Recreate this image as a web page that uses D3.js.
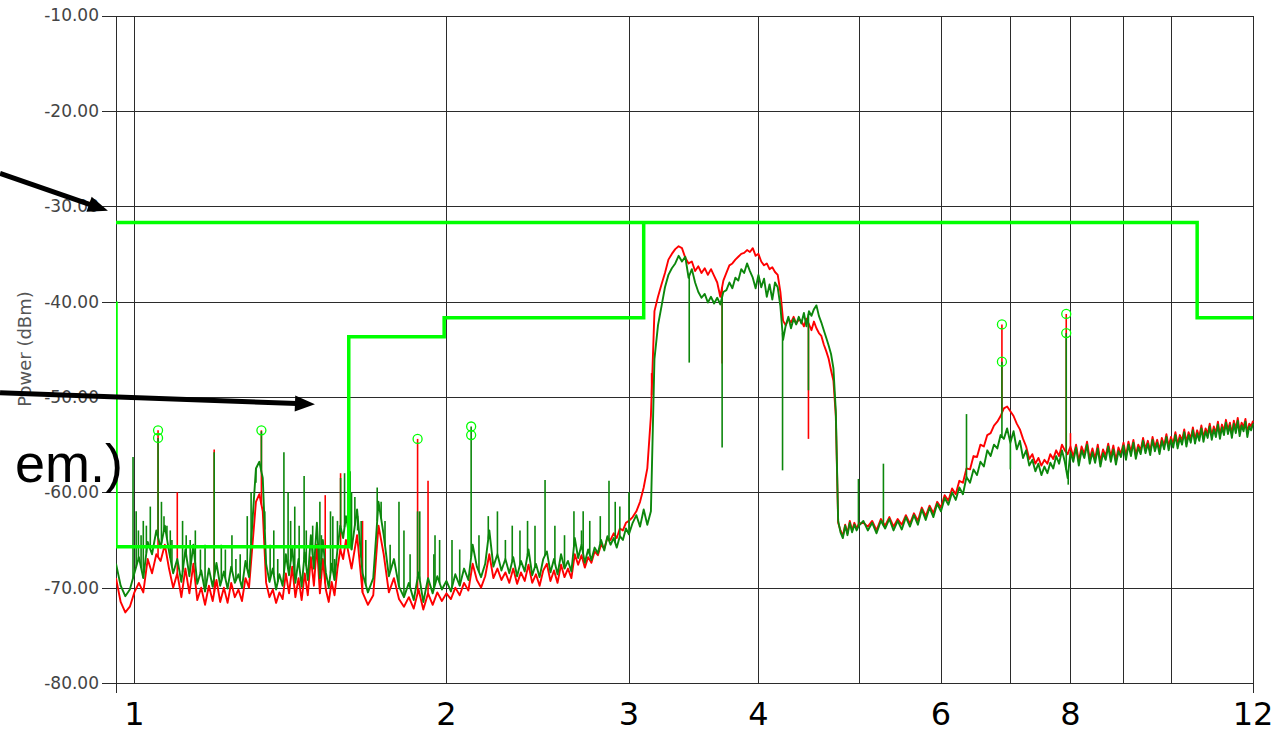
<!DOCTYPE html>
<html>
<head>
<meta charset="utf-8">
<script src="https://cdn.jsdelivr.net/npm/d3@7"></script>
<style>
  html, body { margin: 0; padding: 0; background: #ffffff; }
  svg { display: block; }
</style>
</head>
<body>
<svg id="chart" width="1280" height="733"></svg>
<script>
// ---------------------------------------------------------------
// Spectrum sweeps (GHz, dBm). Each sweep segment: [start GHz, step GHz]
// ---------------------------------------------------------------
const greenLowSweep = [0.96, 0.01];
const greenLow = [
  -67.5, -69.8, -70.9, -70.2, -68.5, -66.8, -69.0, -65.2, -66.5, -64.0,
  -65.8, -63.5, -66.2, -68.5, -67.0, -69.4, -66.0, -68.8, -65.5, -69.6,
  -68.2, -70.4, -68.0, -69.9, -67.4, -69.8, -68.3, -70.1, -67.8, -69.5,
  -68.6, -70.0, -67.2, -68.9, -63.0, -57.5, -56.8, -58.5, -67.5, -69.4,
  -68.0, -70.2, -68.6, -69.8, -66.5, -68.7, -65.8, -69.5, -67.0, -69.9,
  -66.3, -69.2, -64.5, -68.0, -63.2, -69.0, -65.0, -68.4, -70.0, -67.5,
  -69.2, -66.0, -63.5, -64.8, -62.5
];
const greenMidSweep = [1.62, 0.02];
const greenMid = [
  -66.0, -61.8, -68.5, -70.5, -69.0, -61.0, -64.5, -68.8, -67.0, -69.9,
  -71.0, -69.5, -71.3, -68.4, -71.5, -69.0, -70.6, -68.8, -70.2, -69.3,
  -70.4, -68.6, -69.8, -68.0, -69.2, -65.5, -67.8, -68.9, -67.5, -64.0,
  -67.8, -66.5, -68.2, -67.0, -68.5, -66.8, -68.8, -67.2, -68.3, -66.0,
  -68.7, -67.5, -68.9, -67.0, -66.2, -68.4, -67.0, -68.6, -66.5, -68.0,
  -67.2, -68.3, -64.8, -66.9, -65.5, -67.4, -66.0, -67.1, -65.8, -66.4,
  -65.0, -66.1, -64.6, -65.5, -64.8, -65.8, -64.6, -65.0, -63.8, -64.4
];
const greenBandSweep = [3.025, 0.025];
const greenBand = [
  -63.2, -62.4, -63.6, -61.8, -63.4, -62.0, -46.0, -42.5, -40.5, -38.5,
  -37.2, -36.5, -36.0, -35.2, -35.8, -35.3, -37.5, -36.6, -38.0, -39.0,
  -39.6, -39.2, -40.1, -39.5, -40.2, -39.6, -40.3, -39.0, -38.8, -38.0,
  -38.6, -37.5, -37.8, -36.6, -37.0, -36.0, -36.8, -37.5, -38.6, -37.2,
  -38.5, -37.6, -39.5, -38.2, -39.8, -38.0, -38.5, -40.5, -44.0, -42.5,
  -41.6, -42.8, -41.8, -42.4, -41.6, -42.3, -41.2, -42.6, -41.0, -41.5,
  -40.8, -40.4, -41.5, -42.2, -43.0, -43.8, -44.6, -45.5, -47.0, -51.5,
  -63.0, -64.2, -64.8, -63.5, -64.5, -63.2, -64.2, -63.4, -64.0, -63.5
];
const greenUpperSweep = [5.05, 0.05];
const greenUpper = [
  -63.0, -64.0, -63.2, -64.3, -63.0, -63.8, -62.8, -64.0, -63.0, -63.9,
  -62.6, -63.6, -62.4, -63.4, -61.8, -62.9, -61.6, -62.6, -61.2, -62.0,
  -60.6, -61.3, -60.0, -60.8, -59.5, -60.2, -58.4, -59.0, -57.6, -58.2,
  -56.8, -57.3, -55.6, -56.2, -55.0, -55.4, -54.0, -54.4, -53.3, -54.8,
  -53.6, -55.5, -54.6, -56.4, -55.6, -57.2, -56.6, -57.8, -57.0, -58.2,
  -57.3, -58.0, -56.9, -57.5, -56.2, -57.0, -55.6, -56.8, -58.5, -55.8
];
const greenTopSweep = [8.05, 0.05];
const greenTop = [
  -56.8, -55.3, -57.2, -55.6, -56.4, -55.0, -57.0, -55.8, -56.9, -55.4,
  -57.3, -55.9, -56.6, -55.2, -56.8, -55.5, -57.1, -55.7, -56.3, -55.1,
  -56.6, -55.0, -56.2, -54.8, -56.5, -55.3, -56.0, -54.6, -55.9, -54.9,
  -56.1, -54.5, -55.7, -54.8, -56.0, -54.6, -55.5, -54.2, -55.6, -54.5,
  -55.3, -54.0, -55.4, -54.3, -55.0, -53.7, -55.2, -54.0, -54.8, -53.5,
  -54.9, -53.8, -54.6, -53.3, -54.7, -53.6, -54.3, -53.1, -54.5, -53.4,
  -54.2, -52.9, -54.4, -53.2, -54.0, -52.7, -53.9, -53.0, -54.3, -52.8,
  -53.8, -52.5, -54.1, -53.0, -53.6, -52.6, -54.2, -53.1, -53.5, -52.8
];

const redLowSweep = [0.96, 0.01];
const redLow = [
  -69.0, -71.5, -72.6, -72.0, -70.5, -69.5, -70.5, -67.0, -68.5, -66.5,
  -67.2, -65.5, -68.0, -70.0, -68.5, -71.0, -68.0, -70.6, -67.5, -71.3,
  -70.0, -71.8, -69.8, -71.4, -69.2, -71.5, -70.0, -71.6, -69.5, -71.0,
  -70.2, -71.4, -69.0, -70.0, -65.5, -61.0, -60.2, -62.0, -69.5, -71.0,
  -70.2, -71.6, -70.5, -71.2, -68.5, -70.6, -67.8, -71.0, -69.0, -71.3,
  -68.5, -70.8, -66.8, -69.8, -65.5, -70.6, -67.0, -70.2, -71.5, -69.4,
  -70.8, -68.0, -66.0, -67.0, -65.0
];
const redMidSweep = [1.62, 0.02];
const redMid = [
  -68.0, -64.5, -70.5, -71.8, -70.8, -63.5, -66.5, -70.5, -69.0, -71.2,
  -72.0, -71.0, -72.2, -70.2, -72.3, -70.6, -71.8, -70.5, -71.4, -70.6,
  -71.2, -70.0, -70.8, -69.5, -70.3, -67.5, -69.2, -70.0, -68.8, -66.5,
  -69.0, -68.0, -69.2, -68.4, -69.5, -68.0, -69.6, -68.4, -69.3, -67.6,
  -69.5, -68.6, -69.8, -68.2, -67.5, -69.3, -68.2, -69.5, -67.6, -68.9,
  -68.0, -69.0, -66.5, -67.6, -66.6, -67.9, -66.8, -67.4, -66.2, -66.6,
  -65.5, -65.9, -64.8, -65.0, -64.3, -64.8, -63.8, -64.0, -63.2, -63.0
];
const redBandSweep = [3.025, 0.025];
const redBand = [
  -62.6, -62.0, -61.0, -59.5, -57.5, -52.0, -41.0, -39.5, -38.2, -37.0,
  -35.6, -35.0, -34.5, -34.2, -34.4, -35.4, -36.0, -35.8, -36.8, -36.3,
  -37.0, -36.5, -37.2, -36.6, -37.3, -38.0, -39.5, -37.8, -37.0, -36.2,
  -36.0, -35.6, -35.3, -35.0, -34.9, -34.6, -34.8, -34.4, -35.2, -35.0,
  -35.8, -36.2, -36.0, -36.6, -36.4, -36.9, -37.2, -39.0, -42.0, -42.5,
  -41.8, -42.2, -41.6, -42.3, -41.9, -42.0, -42.6, -41.8, -42.4, -43.0,
  -42.1, -42.8, -43.3, -43.6, -44.5, -45.2, -46.0, -47.2, -48.3, -52.0,
  -63.2, -64.0, -64.6, -63.4, -64.3, -63.0, -64.0, -63.2, -63.8, -63.3
];
const redUpperSweep = [5.05, 0.05];
const redUpper = [
  -63.2, -63.6, -63.0, -64.0, -62.8, -63.5, -62.6, -63.6, -62.8, -63.4,
  -62.4, -63.3, -62.2, -63.0, -61.6, -62.5, -61.4, -62.2, -61.0, -61.6,
  -60.3, -60.9, -59.6, -60.2, -58.8, -59.0, -57.5, -57.6, -56.2, -56.3,
  -55.0, -55.2, -54.0, -53.8, -53.0, -52.6, -52.0, -51.2, -51.0, -51.5,
  -52.0, -52.8, -53.4, -54.4, -55.2, -56.5, -56.0, -57.0, -56.4, -57.2,
  -56.6, -57.0, -56.0, -56.5, -55.6, -56.2, -55.0, -55.6, -56.0, -55.2
];
const redTopSweep = [8.05, 0.05];
const redTop = [
  -56.3, -55.0, -56.8, -55.2, -56.0, -54.7, -56.5, -55.4, -56.5, -55.0,
  -56.8, -55.5, -56.2, -54.9, -56.3, -55.1, -56.7, -55.3, -56.0, -54.8,
  -56.2, -54.7, -55.8, -54.5, -56.1, -55.0, -55.6, -54.3, -55.5, -54.6,
  -55.7, -54.2, -55.3, -54.5, -55.6, -54.3, -55.1, -53.9, -55.2, -54.2,
  -54.9, -53.7, -55.0, -54.0, -54.6, -53.4, -54.8, -53.7, -54.4, -53.2,
  -54.5, -53.5, -54.2, -53.0, -54.3, -53.3, -53.9, -52.8, -54.1, -53.1,
  -53.8, -52.6, -54.0, -52.9, -53.6, -52.4, -53.5, -52.7, -53.9, -52.5,
  -53.4, -52.2, -53.7, -52.7, -53.2, -52.3, -53.8, -52.8, -53.1, -52.5
];

// Narrow spurs and notches: [GHz, dBm reached]
const greenSpurs = [
  [0.997, -56.3], [1.004, -62.0], [1.009, -64.0], [1.015, -64.5], [1.02, -63.0],
  [1.027, -63.5], [1.036, -61.5], [1.054, -54.3], [1.062, -61.0], [1.068, -62.5],
  [1.075, -63.5], [1.083, -64.0], [1.087, -65.0], [1.113, -63.0], [1.122, -64.5],
  [1.132, -65.0], [1.145, -64.0], [1.158, -66.0], [1.17, -65.5], [1.194, -55.8],
  [1.213, -65.5], [1.224, -66.0], [1.242, -64.5], [1.253, -67.0], [1.265, -66.5],
  [1.285, -62.5], [1.296, -60.0], [1.31, -59.0], [1.326, -53.6], [1.336, -62.0],
  [1.352, -65.5], [1.363, -64.0], [1.375, -67.0], [1.394, -55.8], [1.407, -60.0],
  [1.415, -63.0], [1.428, -61.5], [1.442, -63.5], [1.458, -58.3], [1.465, -64.0],
  [1.486, -63.5], [1.51, -61.0], [1.515, -64.5], [1.546, -62.0], [1.554, -62.5],
  [1.56, -67.0], [1.57, -63.0], [1.581, -58.5], [1.595, -58.0], [1.615, -57.8],
  [1.62, -60.0], [1.632, -60.5], [1.642, -64.0], [1.655, -63.0], [1.672, -65.0],
  [1.715, -59.5], [1.73, -61.0], [1.745, -63.0], [1.765, -65.5], [1.80, -61.0],
  [1.82, -64.0], [1.845, -66.5], [1.876, -62.0], [1.885, -62.0], [1.945, -66.5],
  [1.95, -64.5], [1.97, -65.0], [2.025, -65.0], [2.06, -66.0], [2.113, -53.1],
  [2.15, -64.5], [2.195, -62.5], [2.24, -62.0], [2.28, -65.0], [2.315, -63.5],
  [2.355, -64.0], [2.395, -63.0], [2.435, -63.5], [2.49, -58.7], [2.545, -63.5],
  [2.60, -64.5], [2.655, -62.0], [2.70, -64.0], [2.71, -62.0], [2.75, -63.0],
  [2.815, -62.5], [2.87, -58.8], [2.91, -61.0], [2.94, -61.5], [3.0, -60.0],
  [3.43, -46.4], [3.69, -55.3], [4.22, -57.7], [4.47, -49.3],
  [4.995, -58.6], [5.28, -57.0], [6.35, -51.8], [6.87, -46.3], [7.0, -57.6],
  [7.925, -43.3], [7.96, -59.2]
];
const redSpurs = [
  [1.054, -53.5], [1.10, -60.0], [1.194, -55.5], [1.326, -53.5], [1.528, -60.3],
  [1.581, -58.0], [1.66, -63.0], [1.876, -54.4], [1.92, -58.8], [3.155, -47.5],
  [3.69, -46.5], [4.47, -54.4], [6.87, -42.4], [7.925, -41.3], [8.0, -53.8]
];

// Peak markers
const markerFreq = [1.054, 1.054, 1.326, 1.876, 2.113, 2.113, 6.87, 6.87, 7.925, 7.925];
const markerLevel = [-53.5, -54.3, -53.5, -54.4, -53.1, -54.0, -42.4, -46.3, -41.3, -43.3];

// Emission limit lines
const limitAFreq = [0.96, 10.6, 10.6, 12];
const limitALevel = [-31.7, -31.7, -41.7, -41.7];
const limitBFreq = [0.96, 0.96, 1.61, 1.61, 1.99, 1.99, 3.1, 3.1];
const limitBLevel = [-40.0, -65.7, -65.7, -43.7, -43.7, -41.7, -41.7, -31.7];

// Axes
const yTicks = [-80, -70, -60, -50, -40, -30, -20, -10];
const gridFreqs = [1, 2, 3, 4, 5, 6, 7, 8, 9, 10];
const freqLabels = [1, 2, 3, 4, 6, 8, 12];

// Callout arrows (GHz, dBm), tail -> tip
const calloutTail = [[0.742, -26.56], [0.742, -49.56]];
const calloutTip = [[0.943, -30.48], [1.4935, -50.76]];

// ---------------------------------------------------------------
const svg = d3.select("#chart");
const x = d3.scaleLog().domain([0.96, 12]).range([116, 1253]);
const y = d3.scaleLinear().domain([-80, -10]).range([683, 15.5]);
const [x0, x1] = x.range();
const [yb, yt] = y.range();

function sweep(seg, values) {
  return values.map((v, i) => ({ f: +(seg[0] + i * seg[1]).toFixed(4), db: v }));
}
const greenTrace = [].concat(
  sweep(greenLowSweep, greenLow), sweep(greenMidSweep, greenMid),
  sweep(greenBandSweep, greenBand), sweep(greenUpperSweep, greenUpper),
  sweep(greenTopSweep, greenTop));
const redTrace = [].concat(
  sweep(redLowSweep, redLow), sweep(redMidSweep, redMid),
  sweep(redBandSweep, redBand), sweep(redUpperSweep, redUpper),
  sweep(redTopSweep, redTop));

const bis = d3.bisector(d => d.f).left;
function levelAt(trace, f) {
  const i = bis(trace, f);
  if (i <= 0) return trace[0].db;
  if (i >= trace.length) return trace[trace.length - 1].db;
  const a = trace[i - 1], b = trace[i];
  const t = (Math.log(f) - Math.log(a.f)) / (Math.log(b.f) - Math.log(a.f));
  return a.db + t * (b.db - a.db);
}

svg.append("defs").append("clipPath").attr("id", "plotClip")
  .append("rect").attr("x", x0).attr("y", yt - 2).attr("width", x1 - x0 + 1).attr("height", yb - yt + 4);

// grid
const grid = svg.append("g").attr("stroke", "#2b2b2b").attr("stroke-width", 1)
  .attr("shape-rendering", "crispEdges");
grid.selectAll("line.h").data(yTicks).join("line").attr("class", "h")
  .attr("x1", x0).attr("x2", x1).attr("y1", d => Math.round(y(d)) + 0.5).attr("y2", d => Math.round(y(d)) + 0.5);
grid.selectAll("line.v").data([0.96].concat(gridFreqs, [12])).join("line").attr("class", "v")
  .attr("x1", d => Math.round(x(d)) + 0.5).attr("x2", d => Math.round(x(d)) + 0.5)
  .attr("y1", yt).attr("y2", yb);
// end ticks below the frequency axis
grid.selectAll("line.t").data([0.96, 12]).join("line").attr("class", "t")
  .attr("x1", d => Math.round(x(d)) + 0.5).attr("x2", d => Math.round(x(d)) + 0.5)
  .attr("y1", yb).attr("y2", yb + 10);

// y axis
const yAxis = d3.axisLeft(y).tickValues(yTicks).tickFormat(d => d.toFixed(2))
  .tickSize(14).tickPadding(3);
const ya = svg.append("g").attr("transform", `translate(${x0},0)`).call(yAxis);
ya.select(".domain").remove();
ya.selectAll(".tick line").attr("stroke", "#2b2b2b").attr("shape-rendering", "crispEdges");
ya.selectAll(".tick text").attr("font-family", "DejaVu Sans").attr("font-size", 17)
  .attr("fill", "#444");

svg.append("text").attr("transform", "translate(31,349) rotate(-90)")
  .attr("text-anchor", "middle").attr("font-family", "DejaVu Sans").attr("font-size", 18)
  .attr("fill", "#555").text("Power (dBm)");

// frequency labels
svg.append("g").selectAll("text").data(freqLabels).join("text")
  .attr("x", d => x(d)).attr("y", 725).attr("text-anchor", "middle")
  .attr("font-family", "DejaVu Sans").attr("font-size", 32).attr("fill", "#000")
  .text(d => d);

// traces
const plot = svg.append("g").attr("clip-path", "url(#plotClip)");
const line = d3.line().x(d => x(d.f)).y(d => y(d.db));

function drawTrace(trace, spurs, color) {
  plot.append("path").datum(trace).attr("d", line).attr("fill", "none")
    .attr("stroke", color).attr("stroke-width", 1.9).attr("stroke-linejoin", "round");
  plot.append("g").selectAll("line").data(spurs).join("line")
    .attr("x1", d => x(d[0])).attr("x2", d => x(d[0]))
    .attr("y1", d => y(levelAt(trace, d[0]))).attr("y2", d => y(d[1]))
    .attr("stroke", color).attr("stroke-width", 1.6);
}
drawTrace(redTrace, redSpurs, "#ff0000");
drawTrace(greenTrace, greenSpurs, "#0c870c");

// limit lines
const limLine = d3.line().x(d => x(d[0])).y(d => y(d[1]));
[[limitAFreq, limitALevel], [limitBFreq, limitBLevel]].forEach(([fs, ls]) => {
  plot.append("path").datum(fs.map((f, i) => [f, ls[i]])).attr("d", limLine)
    .attr("fill", "none").attr("stroke", "#00ff00").attr("stroke-width", 3.5)
    .attr("stroke-linejoin", "miter");
});

// peak markers
plot.append("g").selectAll("circle").data(markerFreq.map((f, i) => [f, markerLevel[i]]))
  .join("circle").attr("cx", d => x(d[0])).attr("cy", d => y(d[1])).attr("r", 4.5)
  .attr("fill", "none").attr("stroke", "#00ff00").attr("stroke-width", 1.3);

// callout arrows
calloutTail.forEach((tail, i) => {
  const tip = calloutTip[i];
  const sx = x(tail[0]), sy = y(tail[1]), tx = x(tip[0]), ty = y(tip[1]);
  const len = Math.hypot(tx - sx, ty - sy);
  const ux = (tx - sx) / len, uy = (ty - sy) / len;
  const bx = tx - ux * 20, by = ty - uy * 20;
  svg.append("line").attr("x1", sx).attr("y1", sy).attr("x2", bx + ux * 2).attr("y2", by + uy * 2)
    .attr("stroke", "#000").attr("stroke-width", 5);
  svg.append("path").attr("fill", "#000")
    .attr("d", `M${tx},${ty}L${bx - uy * 8},${by + ux * 8}L${bx + uy * 8},${by - ux * 8}Z`);
});

svg.append("text").attr("x", 15).attr("y", 482).attr("font-family", "Liberation Sans")
  .attr("font-size", 54).attr("fill", "#000").text("em.)");
</script>
</body>
</html>
